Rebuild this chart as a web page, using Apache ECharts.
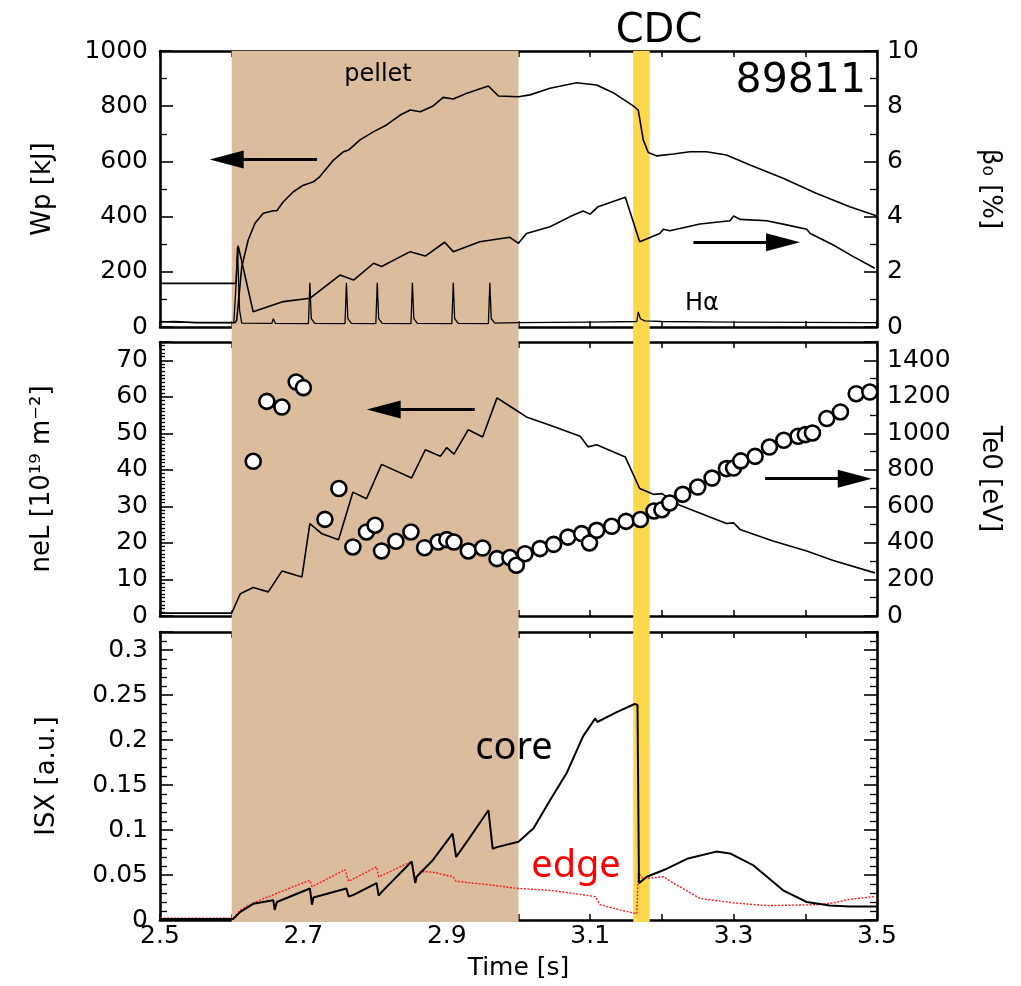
<!DOCTYPE html>
<html>
<head>
<meta charset="utf-8">
<script src="https://cdn.jsdelivr.net/npm/echarts@6/dist/echarts.min.js"></script>
<style>html,body{margin:0;padding:0;background:#fff}#c{width:1021px;height:986px}</style>
</head>
<body>
<div id="c"></div>
<script>
// ---- data ----
const xTickLabels = ['2.5', '2.7', '2.9', '3.1', '3.3', '3.5'];
const pelletRange = [2.6, 3.0];
const cdcRange = [3.16, 3.183];

// panel 1 : stored energy Wp [kJ] (left), beta0 [%] (right), H-alpha (a.u., drawn on left scale)
const wpData = [[2.5,18],[2.52,20],[2.55,16],[2.605,16],[2.607,25],[2.614,218],[2.623,315],[2.6325,376],[2.644,412],[2.658,421],[2.663,421],[2.672,454],[2.686,490],[2.700,514],[2.714,526],[2.723,545],[2.742,605],[2.756,635],[2.763,641],[2.779,678],[2.798,708],[2.816,732],[2.835,768],[2.849,786],[2.863,780],[2.881,801],[2.895,832],[2.909,826],[2.928,847],[2.958,873],[2.972,837],[3.0,834],[3.016,841],[3.044,865],[3.081,885],[3.109,877],[3.132,849],[3.160,801],[3.167,786],[3.174,678],[3.181,632],[3.193,620],[3.216,627],[3.239,635],[3.262,635],[3.290,623],[3.323,587],[3.369,539],[3.416,484],[3.462,436],[3.5,402]];
const betaData = [[2.5,1.58],[2.606,1.58],[2.609,2.95],[2.630,0.55],[2.672,0.92],[2.709,1.04],[2.751,1.88],[2.770,1.70],[2.798,2.31],[2.809,2.19],[2.849,2.73],[2.870,2.57],[2.897,3.07],[2.909,2.73],[2.946,3.09],[2.988,3.25],[3.0,3.03],[3.011,3.39],[3.044,3.63],[3.072,4.0],[3.090,4.20],[3.100,4.09],[3.111,4.36],[3.149,4.70],[3.169,3.09],[3.197,3.39],[3.202,3.54],[3.211,3.49],[3.253,3.73],[3.295,3.85],[3.300,4.02],[3.309,3.90],[3.346,3.85],[3.374,3.70],[3.402,3.54],[3.407,3.39],[3.439,2.97],[3.467,2.55],[3.497,2.13]];
const halphaData = [[2.5,20],[2.53,17],[2.603,16],[2.606,150],[2.608,290],[2.611,60],[2.614,14],[2.656,13],[2.658,30],[2.661,13],[2.707,12],[2.709,160],[2.711,30],[2.716,13],[2.758,12],[2.760,160],[2.762,30],[2.767,13],[2.801,12],[2.803,160],[2.805,30],[2.810,13],[2.850,12],[2.852,160],[2.854,30],[2.859,13],[2.907,12],[2.909,160],[2.911,30],[2.916,13],[2.958,12],[2.960,160],[2.962,30],[2.967,14],[3.0,16],[3.1,18],[3.165,20],[3.167,55],[3.170,30],[3.176,22],[3.2,20],[3.3,18],[3.5,16]];

// panel 2 : line density neL (left) and central Te0 (right, circles)
const neLData = [[2.5,0.8],[2.600,0.8],[2.612,6.1],[2.630,7.8],[2.651,6.6],[2.670,12.3],[2.698,10.7],[2.709,25.3],[2.726,22.5],[2.749,20.9],[2.769,33.9],[2.788,32.1],[2.809,41.5],[2.851,37.8],[2.870,45.5],[2.891,43.7],[2.900,46.1],[2.910,44.3],[2.930,51.0],[2.950,49.0],[2.970,59.7],[2.993,56.8],[3.011,54.5],[3.044,52.2],[3.086,49.2],[3.097,46.3],[3.109,46.9],[3.149,43.5],[3.169,34.9],[3.188,33.3],[3.200,33.5],[3.225,30.3],[3.290,25.3],[3.300,25.5],[3.309,23.7],[3.355,20.5],[3.402,17.8],[3.439,15.2],[3.497,11.8]];
const te0Data = [[2.630,847],[2.649,1175],[2.670,1144],[2.690,1281],[2.700,1250],[2.730,529],[2.7495,698],[2.769,378],[2.788,460],[2.800,497],[2.809,356],[2.829,409],[2.850,460],[2.869,374],[2.888,405],[2.900,418],[2.910,405],[2.930,356],[2.950,372],[2.970,314],[2.988,320],[2.997,278],[3.009,341],[3.030,369],[3.049,392],[3.069,432],[3.088,451],[3.099,400],[3.109,469],[3.130,491],[3.150,518],[3.170,528],[3.189,575],[3.200,582],[3.211,619],[3.229,666],[3.250,706],[3.270,755],[3.290,807],[3.300,810],[3.310,849],[3.330,874],[3.350,925],[3.370,962],[3.390,984],[3.400,993],[3.410,1002],[3.430,1081],[3.449,1117],[3.471,1217],[3.490,1226]];

// panel 3 : soft X-ray, core and edge
const coreData = [[2.5,0.001],[2.602,0.001],[2.612,0.009],[2.630,0.018],[2.658,0.022],[2.660,0.011],[2.663,0.020],[2.709,0.035],[2.712,0.017],[2.714,0.025],[2.760,0.035],[2.763,0.026],[2.770,0.028],[2.802,0.041],[2.805,0.027],[2.809,0.031],[2.851,0.065],[2.856,0.041],[2.858,0.048],[2.881,0.067],[2.908,0.096],[2.913,0.070],[2.928,0.087],[2.958,0.122],[2.964,0.079],[2.970,0.081],[3.000,0.087],[3.021,0.102],[3.044,0.133],[3.067,0.163],[3.090,0.204],[3.107,0.224],[3.110,0.220],[3.137,0.231],[3.162,0.240],[3.166,0.239],[3.168,0.041],[3.179,0.048],[3.207,0.057],[3.235,0.068],[3.276,0.076],[3.295,0.074],[3.327,0.061],[3.369,0.033],[3.402,0.020],[3.434,0.016],[3.462,0.015],[3.5,0.015]];
const edgeData = [[2.5,0.002],[2.602,0.002],[2.612,0.011],[2.630,0.019],[2.658,0.028],[2.686,0.037],[2.709,0.044],[2.712,0.037],[2.758,0.056],[2.763,0.043],[2.802,0.059],[2.805,0.048],[2.851,0.065],[2.856,0.046],[2.863,0.054],[2.881,0.053],[2.909,0.048],[2.913,0.043],[2.960,0.039],[3.000,0.035],[3.044,0.033],[3.090,0.028],[3.107,0.026],[3.114,0.017],[3.142,0.011],[3.165,0.007],[3.167,0.052],[3.174,0.046],[3.202,0.048],[3.216,0.041],[3.253,0.024],[3.300,0.019],[3.346,0.016],[3.416,0.017],[3.439,0.019],[3.462,0.023],[3.497,0.026]];

// direction arrows [from, to] in data units of the series' axes
const wpArrow = [[2.719, 607], [2.593, 607]];
const betaArrow = [[3.244, 3.07], [3.369, 3.07]];
const neLArrow = [[2.939, 56.5], [2.812, 56.5]];
const teArrow = [[3.344, 752], [3.469, 752]];

// ---- styling / layout ----
const FONT = 'DejaVu Sans';
const L = 160, R = 1021 - 877;
const grids = [
  { left: L, right: R, top: 51, height: 276 },
  { left: L, right: R, top: 342, height: 274 },
  { left: L, right: R, top: 632, height: 288 },
  { left: L, right: R, top: 51, height: 871 } // background for shaded bands
].map(g => Object.assign({ outerBoundsMode: 'none', containLabel: false }, g));

const numFmt = v => String(Math.round(v * 1000) / 1000);
function xAx(gi, pos, labels, name) {
  const a = {
    type: 'value', gridIndex: gi, position: pos, min: 2.5, max: 3.5, interval: 0.1,
    axisLine: { show: true, onZero: false, lineStyle: { color: '#000', width: 2.6 } },
    axisTick: { show: true, inside: true, length: 6, lineStyle: { color: '#000', width: 1.5 } },
    splitLine: { show: false },
    axisLabel: {
      show: labels, margin: 4, color: '#000', fontFamily: FONT, fontSize: 25,
      formatter: v => { const s = (Math.round(v * 10) / 10).toFixed(1); return xTickLabels.includes(s) ? s : ''; }
    }
  };
  if (name) {
    Object.assign(a, { name: name, nameLocation: 'middle', nameGap: 36,
      nameTextStyle: { color: '#000', fontFamily: FONT, fontSize: 25 } });
  }
  return a;
}
function yAx(gi, pos, min, max, interval, minorSplit, minorLen, labels, name, gap, rot) {
  const a = {
    type: 'value', gridIndex: gi, position: pos, min: min, max: max, interval: interval,
    axisLine: { show: true, onZero: false, lineStyle: { color: '#000', width: 2.6 } },
    axisTick: { show: true, inside: true, length: 13, lineStyle: { color: '#000', width: 1.6 } },
    minorTick: { show: true, splitNumber: minorSplit, length: minorLen, lineStyle: { color: '#000', width: 1.3 } },
    splitLine: { show: false }, minorSplitLine: { show: false },
    axisLabel: { show: labels, margin: pos === 'left' ? 12 : 10, color: '#000', fontFamily: FONT, fontSize: 25,
      showMinLabel: true, showMaxLabel: (Math.abs(max / interval - Math.round(max / interval)) < 1e-9),
      formatter: numFmt }
  };
  if (name) {
    Object.assign(a, { name: name, nameLocation: 'middle', nameGap: gap, nameRotate: rot,
      nameTextStyle: { color: '#000', fontFamily: FONT, fontSize: 26 } });
  }
  return a;
}

const xAxes = [
  xAx(0, 'bottom', false), xAx(0, 'top', false),
  xAx(1, 'bottom', false), xAx(1, 'top', false),
  xAx(2, 'bottom', true, 'Time [s]'), xAx(2, 'top', false),
  { type: 'value', gridIndex: 3, min: 2.5, max: 3.5, show: false }
];
const yAxes = [
  yAx(0, 'left', 0, 1000, 200, 2, 7, true, 'Wp [kJ]', 104, 90),
  yAx(0, 'right', 0, 10, 2, 2, 7, true, 'β₀ [%]', 100, -90),
  yAx(1, 'left', 0, 75, 10, 10, 5, true, 'neL [10¹⁹ m⁻²]', 105, 90),
  yAx(1, 'right', 0, 1500, 200, 2, 7, true, 'Te0 [eV]', 100, -90),
  yAx(2, 'left', 0, 0.32, 0.05, 5, 7, true, 'ISX [a.u.]', 100, 90),
  yAx(2, 'right', 0, 0.32, 0.05, 5, 7, false),
  { type: 'value', gridIndex: 3, min: 0, max: 1, show: false }
];

const HEAD = 'path://M9,0L18,34L0,34Z';
function arrow(pair) {
  return {
    silent: true, symbol: ['none', 'triangle'], symbolSize: [0, 20],
    label: { show: false }, lineStyle: { color: '#000', width: 3, type: 'solid' },
    itemStyle: { color: '#000' },
    emphasis: { disabled: true },
    data: [[{ coord: pair[0], symbol: 'none' },
            { coord: pair[1], symbol: HEAD, symbolSize: [18, 34] }]]
  };
}
const blackLine = (w) => ({ color: '#000', width: w });

const series = [
  { type: 'line', xAxisIndex: 6, yAxisIndex: 6, data: [], z: 0, silent: true,
    markArea: { silent: true, data: [
      [{ xAxis: pelletRange[0], itemStyle: { color: '#dbbc9c' } }, { xAxis: pelletRange[1] }],
      [{ xAxis: cdcRange[0], itemStyle: { color: '#fdd84e' } }, { xAxis: cdcRange[1] }]
    ] } },
  { name: 'Hα', type: 'line', xAxisIndex: 0, yAxisIndex: 0, data: halphaData, showSymbol: false, lineStyle: blackLine(1.3), z: 3 },
  { name: 'Wp', type: 'line', xAxisIndex: 0, yAxisIndex: 0, data: wpData, showSymbol: false, lineStyle: blackLine(1.6), z: 3, markLine: arrow(wpArrow) },
  { name: 'beta0', type: 'line', xAxisIndex: 0, yAxisIndex: 1, data: betaData, showSymbol: false, lineStyle: blackLine(1.6), z: 3, markLine: arrow(betaArrow) },
  { name: 'neL', type: 'line', xAxisIndex: 2, yAxisIndex: 2, data: neLData, showSymbol: false, lineStyle: blackLine(1.6), z: 3, markLine: arrow(neLArrow) },
  { name: 'Te0', type: 'scatter', xAxisIndex: 2, yAxisIndex: 3, data: te0Data, symbol: 'circle', symbolSize: 15,
    itemStyle: { color: '#fff', borderColor: '#000', borderWidth: 2.6, opacity: 1 }, z: 4, markLine: arrow(teArrow) },
  { name: 'edge', type: 'line', xAxisIndex: 4, yAxisIndex: 4, data: edgeData, showSymbol: false,
    lineStyle: { color: '#ff1a1a', width: 1.4, type: [2, 1.5] }, z: 3 },
  { name: 'core', type: 'line', xAxisIndex: 4, yAxisIndex: 4, data: coreData, showSymbol: false, lineStyle: blackLine(2), z: 3 }
];

const txt = (text, x, y, size, opts) => ({
  type: 'text', z: 10, silent: true,
  style: Object.assign({ text: text, x: x, y: y, fill: '#000', font: size + 'px "' + FONT + '"',
    textAlign: 'center', textVerticalAlign: 'middle', align: 'center', verticalAlign: 'middle' }, opts || {})
});

const chart = echarts.init(document.getElementById('c'), null, { renderer: 'canvas' });
chart.setOption({
  animation: false,
  backgroundColor: '#fff',
  title: { text: 'CDC', left: 654, top: 7, textAlign: 'center',
    textStyle: { color: '#000', fontFamily: FONT, fontSize: 40, fontWeight: 'normal' } },
  grid: grids,
  xAxis: xAxes,
  yAxis: yAxes,
  series: series,
  graphic: [
    txt('pellet', 378, 75, 24),
    txt('89811', 866, 81, 41, { textAlign: 'right', align: 'right' }),
    txt('Hα', 702, 304, 24),
    txt('core', 514, 748, 38, { font: '38px "Noto Sans"' }),
    txt('edge', 576, 866, 38, { font: '38px "Noto Sans"', fill: '#ff0000' })
  ]
});
</script>
</body>
</html>
